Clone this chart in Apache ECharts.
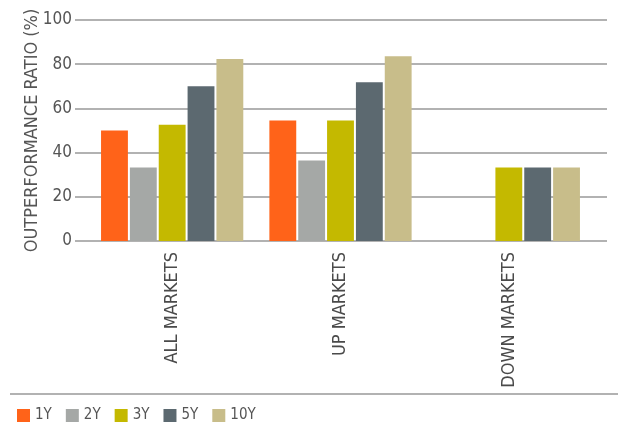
<!DOCTYPE html>
<html><head><meta charset="utf-8">
<script src="https://cdn.jsdelivr.net/npm/echarts@6/dist/echarts.min.js"></script>
<style>html,body{margin:0;padding:0;background:#fff}#c{width:618px;height:426px}</style>
</head><body><div id="c"></div>
<script>
const categories = ['ALL MARKETS', 'UP MARKETS', 'DOWN MARKETS'];
const seriesNames = ['1Y', '2Y', '3Y', '5Y', '10Y'];
const v1Y = [50, 54.5, 0];
const v2Y = [33.3, 36.4, 0];
const v3Y = [52.6, 54.5, 33.3];
const v5Y = [70, 71.8, 33.3];
const v10Y = [82.4, 83.6, 33.3];
const yTicks = [0, 20, 40, 60, 80, 100];
const colors = ['#ff6319', '#a5a8a6', '#c4b900', '#5c6970', '#c8bd8a'];
const font = "'DejaVu Sans Condensed', 'DejaVu Sans', sans-serif";
const data = [v1Y, v2Y, v3Y, v5Y, v10Y];
const yMin = yTicks[0], yMax = yTicks[yTicks.length - 1];
const chart = echarts.init(document.getElementById('c'));
chart.setOption({
  animation: false,
  grid: [
    {left: 75, right: 11, top: 20, bottom: 185},
    {left: 88, right: 25, top: 20, bottom: 185}
  ],
  legend: {
    left: 17, top: 408, padding: 0, itemWidth: 13, itemHeight: 13, itemGap: 14,
    icon: 'rect',
    textStyle: {fontFamily: font, fontSize: 15, color: '#555'},
    data: seriesNames
  },
  graphic: [{type: 'line', shape: {x1: 10, y1: 394, x2: 618, y2: 394}, style: {stroke: '#999', lineWidth: 1.5}}],
  xAxis: [
    {gridIndex: 0, type: 'value', show: false, min: 0, max: 1},
    {
      gridIndex: 1, type: 'category', data: categories,
      axisLine: {show: false}, axisTick: {show: false},
      axisLabel: {rotate: 90, margin: 11, fontFamily: font, fontSize: 18, color: '#4a4a4a'}
    }
  ],
  yAxis: [
    {
      gridIndex: 0, type: 'value', min: yMin, max: yMax, interval: 20,
      name: 'OUTPERFORMANCE RATIO (%)', nameLocation: 'middle', nameGap: 34, nameRotate: 90,
      nameMoveOverlap: false,
      nameTextStyle: {fontFamily: font, fontSize: 18, color: '#555'},
      axisLine: {show: false}, axisTick: {show: false},
      axisLabel: {margin: 3, fontFamily: font, fontSize: 17, color: '#555'},
      splitLine: {lineStyle: {color: '#999', width: 1.5}}
    },
    {gridIndex: 1, type: 'value', min: yMin, max: yMax, interval: 20, show: false, splitLine: {show: false}}
  ],
  series: seriesNames.map((n, i) => ({
    name: n, type: 'bar', data: data[i], xAxisIndex: 1, yAxisIndex: 1,
    barCategoryGap: '15.5%', barGap: '7.4%',
    itemStyle: {color: colors[i]}
  }))
});
</script></body></html>
